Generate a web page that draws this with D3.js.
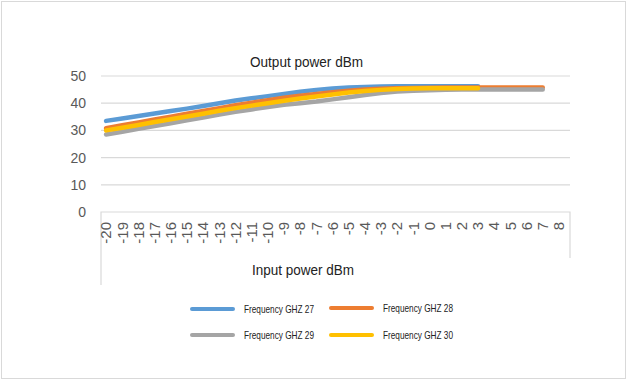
<!DOCTYPE html>
<html><head><meta charset="utf-8">
<script src="https://cdn.jsdelivr.net/npm/d3@7/dist/d3.min.js"></script>
<style>body{margin:0;background:#fff}svg{display:block;font-family:Arial,"Liberation Sans",sans-serif}</style>
</head><body><svg id="c" width="628" height="381"></svg>
<script>
const categories = d3.range(-20, 9).map(String);
const yTicks = [0, 10, 20, 30, 40, 50];
const seriesNames = ["Frequency GHZ 27", "Frequency GHZ 28", "Frequency GHZ 29", "Frequency GHZ 30"];
const colors = ["#5b9bd5", "#ed7d31", "#a5a5a5", "#ffc000"];
const f27 = [33.5,34.4,35.3,36.2,37.1,38.0,39.0,40.0,41.0,41.8,42.6,43.4,44.2,44.9,45.4,45.8,46.0,46.1,46.2,46.2,46.2,46.2,46.2,46.2];
const f28 = [30.8,31.9,32.9,34.0,35.0,36.1,37.1,38.2,39.3,40.2,41.1,42.0,42.7,43.4,44.0,44.6,45.0,45.3,45.5,45.6,45.7,45.8,45.8,45.8,45.8,45.8,45.8,45.8];
const f29 = [28.5,29.5,30.6,31.6,32.6,33.7,34.7,35.8,36.8,37.7,38.6,39.4,40.0,40.6,41.4,42.2,43.0,43.7,44.3,44.6,44.8,44.9,45.0,45.0,45.0,45.0,45.0,45.0];
const f30 = [30.0,31.0,32.0,33.1,34.1,35.1,36.1,37.2,38.2,39.1,40.0,40.9,41.7,42.5,43.2,43.9,44.5,44.9,45.2,45.4,45.5,45.5,45.5,45.5];
const series = [f27, f28, f29, f30];

const svg = d3.select("#c");
svg.append("rect").attr("x",1.5).attr("y",1.5).attr("width",624).attr("height",377)
  .attr("fill","#fff").attr("stroke","#d9d9d9");

const x = d3.scaleBand().domain(categories).range([101, 570]).padding(0);
const y = d3.scaleLinear().domain([0, 50]).range([212, 76]);

// gridlines
svg.append("g").selectAll("line").data(yTicks.filter(d=>d>0)).join("line")
  .attr("x1",101).attr("x2",570).attr("y1",d=>y(d)).attr("y2",d=>y(d))
  .attr("stroke","#d9d9d9").attr("stroke-width",1.2);

// y axis labels
const ya = svg.append("g").attr("transform","translate(86,0)")
  .call(d3.axisLeft(y).tickValues(yTicks).tickSize(0).tickPadding(0));
ya.select(".domain").remove();
ya.selectAll("text").attr("font-size",14).attr("fill","#595959").attr("font-family","Arial,'Liberation Sans',sans-serif");

// x axis box
svg.append("path").attr("d","M101,285V212H570V258").attr("fill","none").attr("stroke","#d9d9d9").attr("stroke-width",1.2);

// x labels
const xa = svg.append("g").attr("transform","translate(0,212)")
  .call(d3.axisBottom(x).tickSize(0).tickPadding(0));
xa.select(".domain").remove();
xa.selectAll("text").attr("font-size",15).attr("fill","#595959")
  .attr("font-family","Arial,'Liberation Sans',sans-serif")
  .attr("text-anchor","end").attr("dy","0.35em")
  .attr("transform","translate(-3,10) rotate(-90)").attr("y",0).attr("x",0);

// lines
const line = d3.line().x((d,i)=>x(categories[i]) + x.bandwidth()/2 - 3).y(d=>y(d)).curve(d3.curveLinear);
svg.append("g").selectAll("path").data(series).join("path")
  .attr("d", d=>line(d)).attr("fill","none")
  .attr("stroke",(d,i)=>colors[i]).attr("stroke-width",4.5)
  .attr("stroke-linecap","round").attr("stroke-linejoin","round");

// titles
svg.append("text").attr("x",250).attr("y",67)
  .attr("font-size",15.5).attr("fill","#222").attr("textLength",113).attr("lengthAdjust","spacingAndGlyphs").text("Output power dBm");
svg.append("text").attr("x",252).attr("y",275)
  .attr("font-size",15.5).attr("fill","#222").attr("textLength",102).attr("lengthAdjust","spacingAndGlyphs").text("Input power dBm");

// legend
const legPos = [[192,309],[331,308],[192,335],[331,335]];
const lg = svg.append("g").selectAll("g").data(seriesNames).join("g")
  .attr("transform",(d,i)=>`translate(${legPos[i][0]},${legPos[i][1]})`);
lg.append("line").attr("x1",0).attr("x2",41).attr("stroke",(d,i)=>colors[i])
  .attr("stroke-width",4).attr("stroke-linecap","round");
lg.append("text").attr("x",52).attr("y",4).attr("font-size",10.5).attr("fill","#222")
  .attr("textLength",70).attr("lengthAdjust","spacingAndGlyphs").text(d=>d);
</script></body></html>
